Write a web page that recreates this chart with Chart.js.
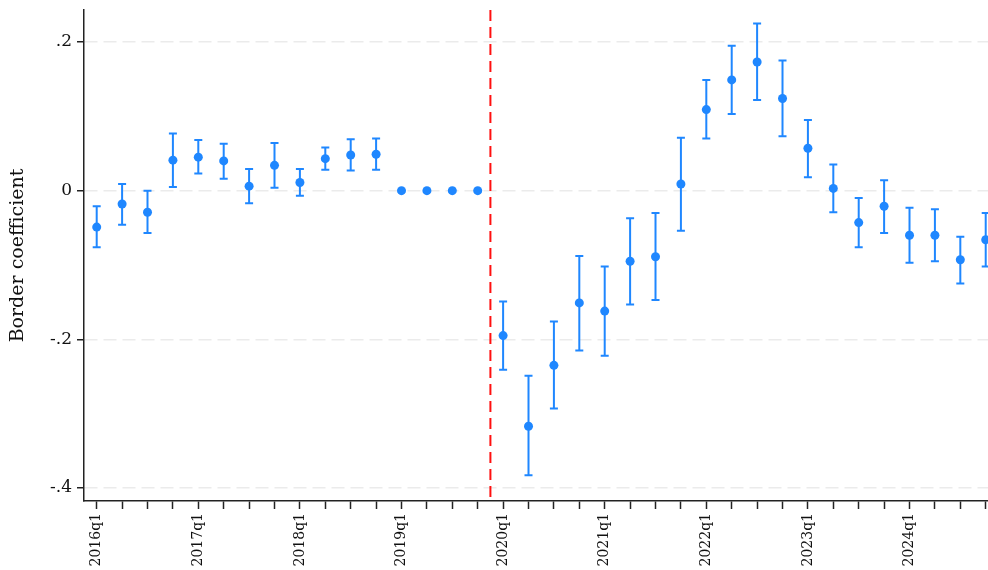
<!DOCTYPE html>
<html>
<head>
<meta charset="utf-8">
<script src="https://cdn.jsdelivr.net/npm/chart.js@4/dist/chart.umd.min.js"></script>
<style>
  html, body { margin: 0; padding: 0; background: #ffffff; }
  #wrap { width: 988px; height: 570px; }
</style>
</head>
<body>
<div id="wrap"><canvas id="c" width="988" height="570"></canvas></div>
<script>
// ---- Data ----
const quarters = [
  '2016q1','2016q2','2016q3','2016q4',
  '2017q1','2017q2','2017q3','2017q4',
  '2018q1','2018q2','2018q3','2018q4',
  '2019q1','2019q2','2019q3','2019q4',
  '2020q1','2020q2','2020q3','2020q4',
  '2021q1','2021q2','2021q3','2021q4',
  '2022q1','2022q2','2022q3','2022q4',
  '2023q1','2023q2','2023q3','2023q4',
  '2024q1','2024q2','2024q3','2024q4'
];
const coef = [
  -0.049, -0.018, -0.029, 0.041,
  0.045, 0.040, 0.006, 0.034,
  0.011, 0.043, 0.048, 0.049,
  0, 0, 0, 0,
  -0.195, -0.317, -0.235, -0.151,
  -0.162, -0.095, -0.089, 0.009,
  0.109, 0.149, 0.173, 0.124,
  0.057, 0.003, -0.043, -0.021,
  -0.060, -0.060, -0.093, -0.066
];
const ciLower = [
  -0.076, -0.046, -0.057, 0.005,
  0.023, 0.016, -0.017, 0.004,
  -0.007, 0.028, 0.027, 0.028,
  null, null, null, null,
  -0.241, -0.383, -0.293, -0.215,
  -0.222, -0.153, -0.147, -0.054,
  0.070, 0.103, 0.122, 0.073,
  0.018, -0.029, -0.076, -0.057,
  -0.097, -0.095, -0.125, -0.102
];
const ciUpper = [
  -0.021, 0.009, 0.000, 0.077,
  0.068, 0.063, 0.029, 0.064,
  0.029, 0.058, 0.069, 0.070,
  null, null, null, null,
  -0.149, -0.249, -0.176, -0.088,
  -0.102, -0.037, -0.030, 0.071,
  0.149, 0.195, 0.225, 0.175,
  0.095, 0.035, -0.010, 0.014,
  -0.023, -0.025, -0.062, -0.030
];
const xLabelEvery = 4;
const yTickValues = [-0.4, -0.2, 0, 0.2];
const yTickLabels = ['-.4', '-.2', '0', '.2'];
const yAxisTitle = 'Border coefficient';
const eventLinePosition = 15.5; // between 2019q4 and 2020q1

// ---- Styles ----
const BLUE = '#1f87ff';
const RED = '#ff1010';

const points = quarters.map((q, i) => ({ x: i, y: coef[i] }));

const errorBarPlugin = {
  id: 'errorBars',
  beforeDatasetsDraw(chart) {
    const ctx = chart.ctx;
    const xs = chart.scales.x, ys = chart.scales.y;
    const area = chart.chartArea;
    // event line
    const ex = xs.getPixelForValue(eventLinePosition);
    ctx.save();
    ctx.strokeStyle = RED;
    ctx.lineWidth = 2;
    ctx.setLineDash([11, 6]);
    ctx.beginPath();
    ctx.moveTo(ex, area.top);
    ctx.lineTo(ex, area.bottom);
    ctx.stroke();
    ctx.restore();
    // error bars
    ctx.save();
    ctx.strokeStyle = BLUE;
    ctx.lineWidth = 2;
    ctx.setLineDash([]);
    const cap = 4;
    for (let i = 0; i < quarters.length; i++) {
      if (ciLower[i] === null || ciUpper[i] === null) continue;
      const px = xs.getPixelForValue(i);
      const y1 = ys.getPixelForValue(ciLower[i]);
      const y2 = ys.getPixelForValue(ciUpper[i]);
      ctx.beginPath();
      ctx.moveTo(px, y1); ctx.lineTo(px, y2);
      ctx.moveTo(px - cap, y1); ctx.lineTo(px + cap, y1);
      ctx.moveTo(px - cap, y2); ctx.lineTo(px + cap, y2);
      ctx.stroke();
    }
    ctx.restore();
  }
};

new Chart(document.getElementById('c'), {
  type: 'scatter',
  data: {
    datasets: [{
      data: points,
      backgroundColor: BLUE,
      borderColor: BLUE,
      borderWidth: 0,
      pointRadius: 4.5,
      pointHoverRadius: 4.5,
      clip: false
    }]
  },
  options: {
    responsive: false,
    animation: false,
    events: [],
    layout: { autoPadding: false, padding: { top: 10, right: 0, left: 0, bottom: 0 } },
    plugins: { legend: { display: false }, tooltip: { enabled: false } },
    scales: {
      x: {
        type: 'linear',
        min: -0.5,
        max: 35.09,
        afterBuildTicks(scale) {
          scale.ticks = quarters.map((q, i) => ({ value: i }));
        },
        afterFit(scale) {
          scale.height = 69;
          scale.paddingLeft = 0;
          scale.paddingRight = 0;
        },
        ticks: {
          autoSkip: false,
          minRotation: 90,
          maxRotation: 90,
          padding: 4,
          color: '#111111',
          font: { family: 'DejaVu Serif', size: 14 },
          callback(value) {
            const i = Math.round(value);
            return (i % xLabelEvery === 0) ? quarters[i] : '';
          }
        },
        grid: {
          drawOnChartArea: false,
          drawTicks: true,
          tickLength: 8,
          tickColor: '#222222',
          tickWidth: 1.5
        },
        border: { display: true, color: '#222222', width: 1.5 }
      },
      y: {
        type: 'linear',
        min: -0.4175,
        max: 0.243,
        afterBuildTicks(scale) {
          scale.ticks = yTickValues.map(v => ({ value: v }));
        },
        afterFit(scale) {
          scale.width = 84;
          scale.paddingTop = 0;
          scale.paddingBottom = 0;
        },
        ticks: {
          padding: 5,
          color: '#111111',
          font: { family: 'DejaVu Serif', size: 17 },
          callback(value) {
            const idx = yTickValues.findIndex(v => Math.abs(v - value) < 1e-9);
            return idx >= 0 ? yTickLabels[idx] : '';
          }
        },
        grid: {
          color: '#ebebeb',
          lineWidth: 1.5,
          drawTicks: true,
          tickLength: 7,
          tickColor: '#222222',
          tickWidth: 1.5
        },
        border: { display: true, color: '#222222', width: 1.5, dash: [13, 6] },
        title: {
          display: true,
          text: yAxisTitle,
          color: '#111111',
          font: { family: 'DejaVu Serif', size: 19 },
          padding: { top: 7, bottom: 0 }
        }
      }
    }
  },
  plugins: [errorBarPlugin]
});
</script>
</body>
</html>
